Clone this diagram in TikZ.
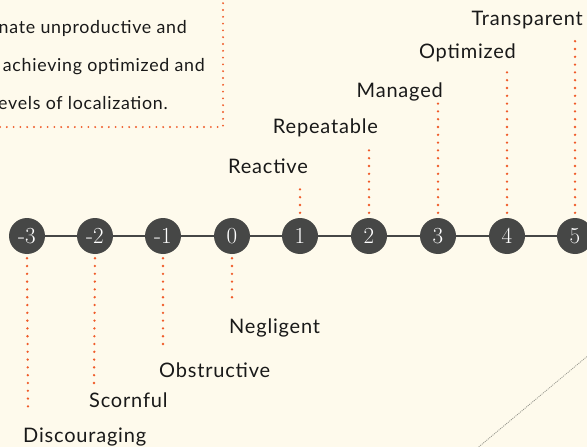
\documentclass[tikz,border=0pt]{standalone}
\usepackage{fontspec}
\setmainfont{Lato}[LetterSpace=4]
\definecolor{bgc}{RGB}{254,250,236}
\definecolor{darkc}{RGB}{70,71,70}
\definecolor{orangec}{RGB}{240,90,40}
\definecolor{diagc}{RGB}{150,150,140}
\begin{document}
\begin{tikzpicture}[x=1pt,y=-1pt,
  stage/.style={circle,fill=darkc,minimum size=36pt,inner sep=0pt,text=white,
    font=\fontspec{Latin Modern Roman}\fontsize{23}{23}\selectfont},
  axisline/.style={draw=darkc,line width=2.6pt},
  orangedots/.style={draw=orangec,line width=2.6pt,line cap=round,dash pattern=on 0pt off 7.8pt},
  boxdots/.style={draw=orangec,line width=2.1pt,line cap=round,dash pattern=on 0pt off 6.8pt},
  lab/.style={inner sep=0pt,text=black!90,font=\fontsize{20}{22}\selectfont},
  boxtext/.style={lab,anchor=base east,font=\fontsize{17.8}{22}\selectfont},
  diagline/.style={draw=diagc,line width=0.8pt,dash pattern=on 1pt off 1pt}]
\useasboundingbox (0,0) rectangle (587,447);
\fill[bgc] (0,0) rectangle (587,447);
% top-left box
\coordinate (bxa) at (0,127);
\coordinate (bxb) at (223,127);
\coordinate (bxc) at (223,0);
\draw[boxdots] (bxa) -- (bxb) -- (bxc);
\node[boxtext] (tx1) at (187,33) {nate unproductive and};
\node[boxtext] (tx2) at (205,71) {achieving optimized and};
\node[boxtext] (tx3) at (168,109) {evels of localization.};
% diagonal
\coordinate (da) at (590,354);
\coordinate (db) at (475,450);
\draw[diagline] (da) -- (db);
% stages
\node[stage] (m3) at (27,236) {-3};
\node[stage] (m2) at (95,236) {-2};
\node[stage] (m1) at (163,236) {-1};
\node[stage] (z0) at (232,236) {0};
\node[stage] (p1) at (300,236) {1};
\node[stage] (p2) at (369,236) {2};
\node[stage] (p3) at (438,236) {3};
\node[stage] (p4) at (507,236) {4};
\node[stage] (p5) at (575,236) {5};
% labels
\node[lab,anchor=base east] (l1) at (308,173) {Reactive};
\node[lab,anchor=base east] (l2) at (378,133) {Repeatable};
\node[lab,anchor=base east] (l3) at (443,97) {Managed};
\node[lab,anchor=base east] (l4) at (516,58) {Optimized};
\node[lab,anchor=base east] (l5) at (583,25) {Transparent};
\node[lab,anchor=base west] (l0) at (229,333) {Negligent};
\node[lab,anchor=base west] (lm1) at (159,377) {Obstructive};
\node[lab,anchor=base west] (lm2) at (89,407) {Scornful};
\node[lab,anchor=base west] (lm3) at (23,442) {Discouraging};
% dotted leaders
\coordinate (e1) at (300,182);
\coordinate (e2) at (369,143);
\coordinate (e3) at (438,102);
\coordinate (e4) at (507,70);
\coordinate (e5) at (575,37);
\coordinate (e0) at (232,303);
\coordinate (em1) at (163,350);
\coordinate (em2) at (94,383);
\coordinate (em3) at (28,414);
\draw[orangedots] (p1.north) ++(0,-5) -- (e1);
\draw[orangedots] (p2.north) ++(0,-5) -- (e2);
\draw[orangedots] (p3.north) ++(0,-5) -- (e3);
\draw[orangedots] (p4.north) ++(0,-5) -- (e4);
\draw[orangedots] (p5.north) ++(0,-5) -- (e5);
\draw[orangedots] (z0.south) ++(0,4) -- (e0);
\draw[orangedots] (m1.south) ++(0,4) -- (em1);
\draw[orangedots] (m2.south) ++(0,4) -- (em2);
\draw[orangedots] (m3.south) ++(0,4) -- (em3);
% axis
\draw[axisline] (m3) -- (m2) (m2) -- (m1) (m1) -- (z0) (z0) -- (p1) (p1) -- (p2) (p2) -- (p3) (p3) -- (p4) (p4) -- (p5);
\end{tikzpicture}
\end{document}
